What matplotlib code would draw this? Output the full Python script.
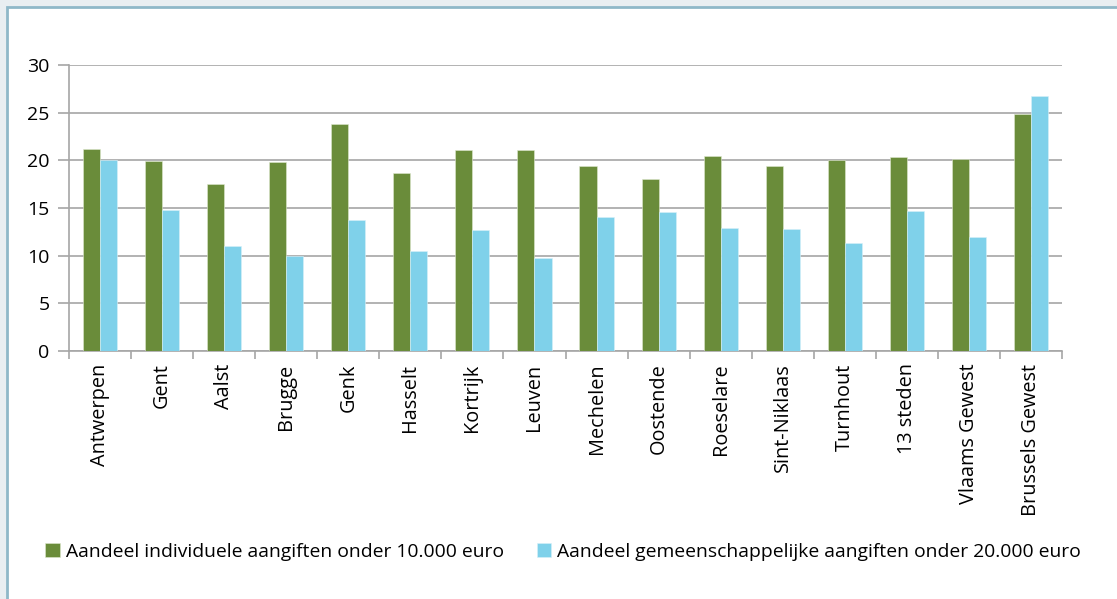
import numpy as np
import matplotlib
matplotlib.use("Agg")
from matplotlib import pyplot as plt
from matplotlib.patches import Rectangle

steden = ["Antwerpen", "Gent", "Aalst", "Brugge", "Genk", "Hasselt", "Kortrijk",
          "Leuven", "Mechelen", "Oostende", "Roeselare", "Sint-Niklaas",
          "Turnhout", "13 steden", "Vlaams Gewest", "Brussels Gewest"]
individueel = [21.2, 19.9, 17.5, 19.8, 23.8, 18.7, 21.1, 21.1,
               19.4, 18.0, 20.5, 19.4, 20.0, 20.3, 20.1, 24.85]
gemeenschappelijk = [20.0, 14.8, 11.0, 10.0, 13.7, 10.5, 12.7, 9.8,
                     14.1, 14.6, 12.9, 12.8, 11.3, 14.7, 12.0, 26.8]
yticks = [0, 5, 10, 15, 20, 25, 30]

GROEN = "#6a8c3a"
BLAUW = "#7fd1ea"
GRIJS = "#a6a6a6"

plt.rcParams["font.family"] = ["Open Sans", "DejaVu Sans"]

fig = plt.figure(figsize=(11.17, 5.99), dpi=100)
fig.patch.set_facecolor("#e9eef1")

# white panel with blue-grey border, running off the right and bottom edges
panel = Rectangle((7 / 1117, -0.1), 1.2, (1 - 7 / 599) + 0.1,
                  transform=fig.transFigure, facecolor="white",
                  edgecolor="#8fb8c8", linewidth=2, zorder=-10)
fig.add_artist(panel)

ax = fig.add_axes([69 / 1117, 1 - 351 / 599, (1062 - 69) / 1117, (351 - 65) / 599])
ax.set_facecolor("none")

x = np.arange(len(steden))
w = 0.275
ax.bar(x - w / 2, individueel, w, color=GROEN, edgecolor="#dfe8d0",
       linewidth=0.4, zorder=3, label="Aandeel individuele aangiften onder 10.000 euro")
ax.bar(x + w / 2, gemeenschappelijk, w, color=BLAUW, edgecolor="#d8f1f9",
       linewidth=0.4, zorder=3,
       label="Aandeel gemeenschappelijke aangiften onder 20.000 euro")

ax.set_xlim(-0.5, len(steden) - 0.5)
ax.set_ylim(0, 30)
ax.set_yticks(yticks)
ax.grid(axis="y", color=GRIJS, linewidth=1.2, zorder=1)

ax.set_xticks(x)
ax.set_xticklabels(steden, rotation=90, fontsize=14.3)
ax.tick_params(axis="x", length=0, pad=9)
ax.set_xticks(np.arange(len(steden) + 1) - 0.5, minor=True)
ax.tick_params(axis="x", which="minor", length=6, color=GRIJS, width=1.2)
ax.tick_params(axis="y", length=8, color=GRIJS, width=1.2, labelsize=14, pad=6)

for side in ["top", "right"]:
    ax.spines[side].set_visible(False)
for side in ["left", "bottom"]:
    ax.spines[side].set_color(GRIJS)
    ax.spines[side].set_linewidth(1.2)

fig.legend(loc="center", bbox_to_anchor=(0.504, 1 - 552 / 599), ncol=2,
           frameon=False, fontsize=13.9, handlelength=0.75, handleheight=0.75,
           handletextpad=0.3, columnspacing=1.7)

fig.savefig("out.png", dpi=100, facecolor=fig.get_facecolor())
